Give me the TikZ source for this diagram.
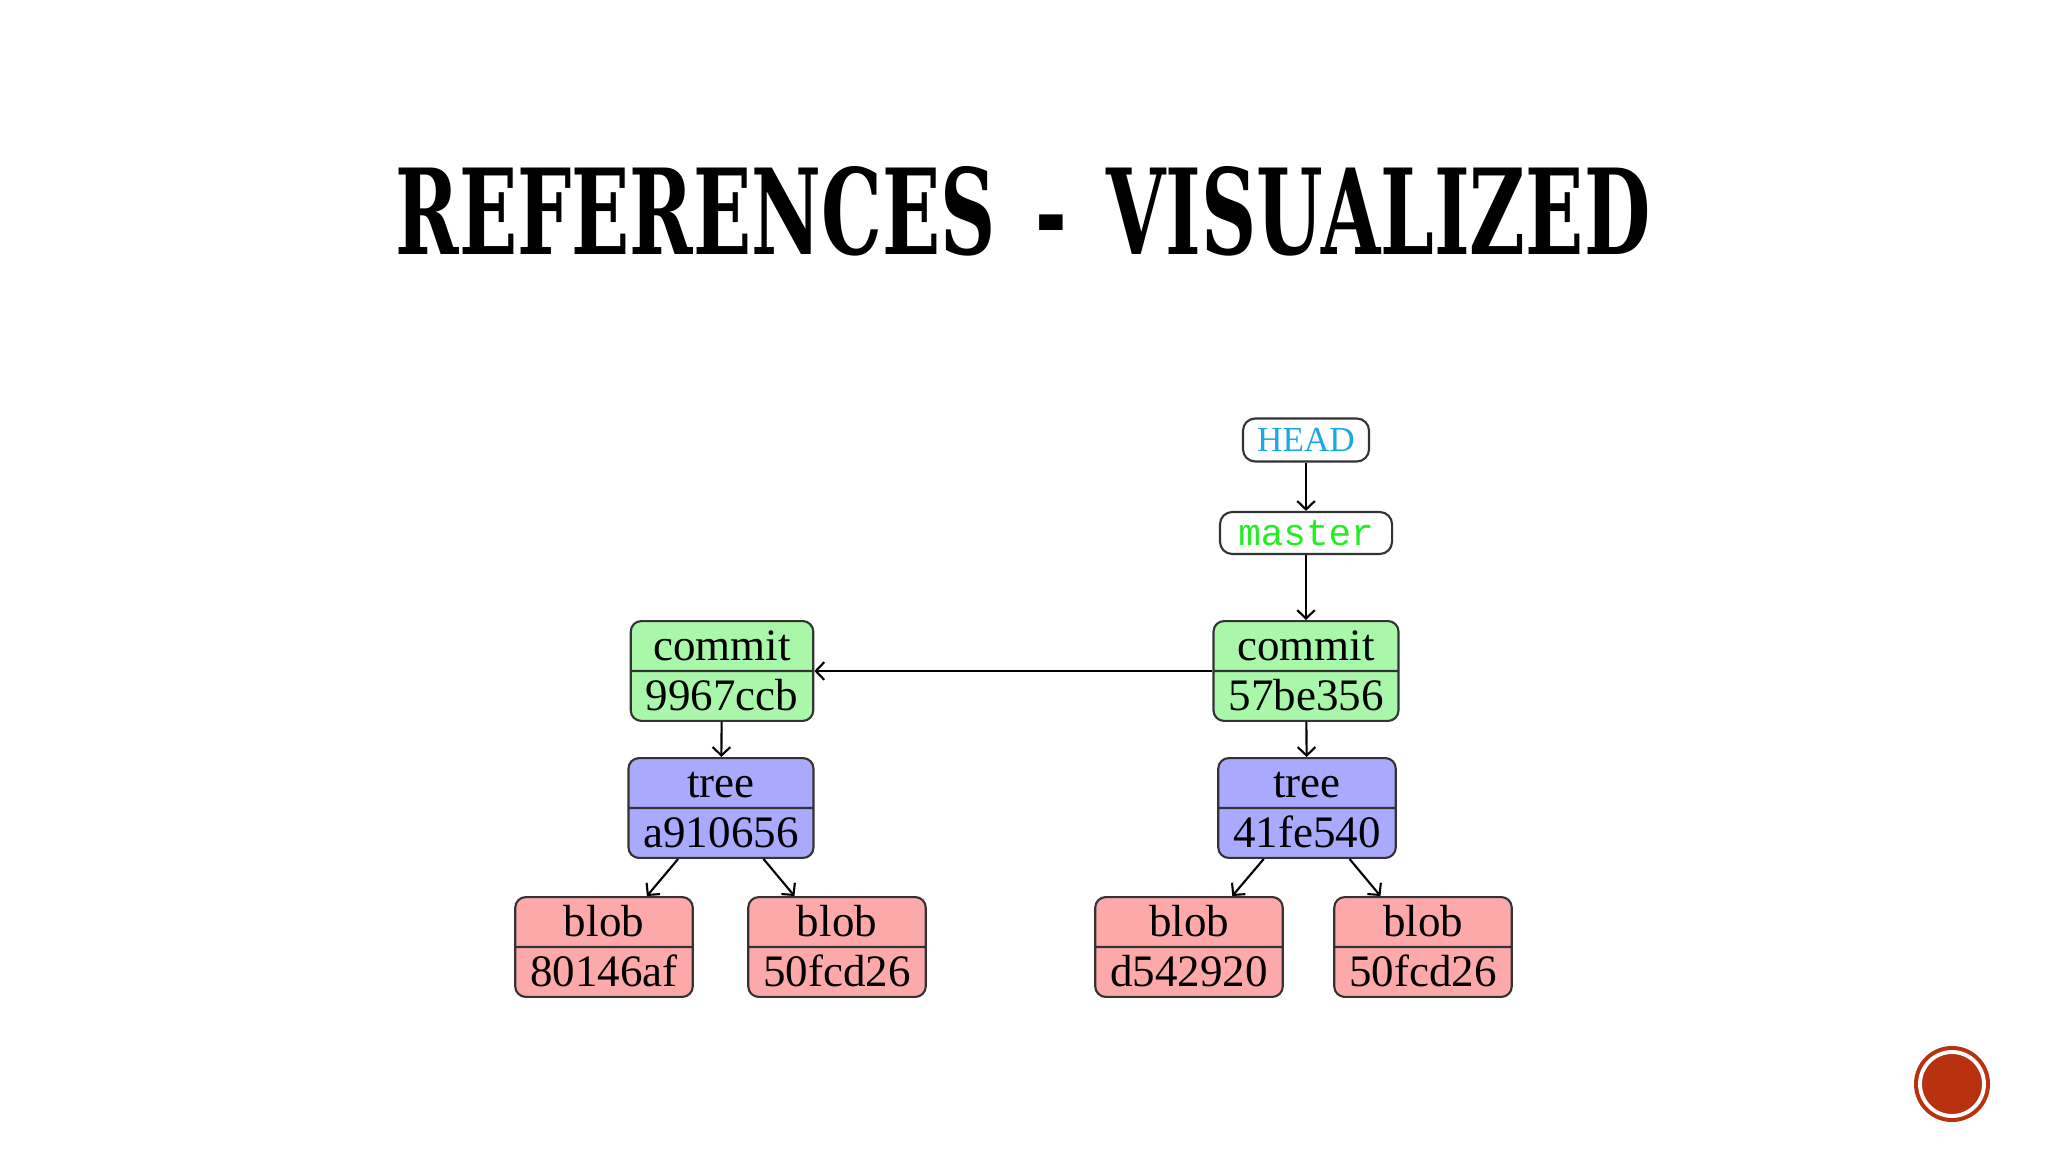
\documentclass[tikz,border=0pt]{standalone}
\usepackage{graphicx}
\usepackage{xcolor}
\usepackage{fontspec}
\setmainfont{Liberation Serif}
\setmonofont{Liberation Mono}
\newfontfamily\titlefont{DejaVu Serif}
\usepackage{tikz}
\usetikzlibrary{arrows.meta,shapes.multipart}
\definecolor{gitcommit}{HTML}{A9F7A9}
\definecolor{gittree}{HTML}{A9A9FD}
\definecolor{gitblob}{HTML}{FDA9A9}
\definecolor{gitline}{HTML}{333333}
\definecolor{headblue}{HTML}{1BA9E3}
\definecolor{branchgreen}{HTML}{22EE22}
\definecolor{badgered}{HTML}{B8320F}
\newcommand{\ObjStrut}{\rule[-2.2pt]{0pt}{12.6pt}}
\newcommand{\GitObj}[2]{#1\ObjStrut\nodepart{two}#2\ObjStrut}

\begin{document}
\begin{tikzpicture}[
  x=0.01cm,
  y=-0.01cm,
  obj/.style={rectangle split, rectangle split parts=2, draw=gitline, line width=0.6pt,
    rounded corners=3pt, inner xsep=0.15cm, inner ysep=0.5pt, align=center,
    font=\fontsize{12.8}{13.6}\selectfont},
  commitobj/.style={obj, fill=gitcommit},
  treeobj/.style={obj, fill=gittree},
  blobobj/.style={obj, fill=gitblob},
  ref/.style={draw=gitline, line width=0.6pt, rounded corners=3.5pt, inner sep=0pt},
  arrow/.style={-{Straight Barb[length=2.4pt,width=5pt]}, line width=0.6pt, draw=black}
]
\useasboundingbox (0,0) rectangle (2048,1152);
\fill[white] (0,0) rectangle (2048,1152);

\node[inner sep=0pt, font=\titlefont\bfseries] (title) at (1023,211)
  {\resizebox{12.54cm}{0.88cm}{REFERENCES \,-\, VISUALIZED}};

\node[ref, minimum width=1.26cm, minimum height=0.43cm, text=headblue,
  font=\fontsize{10}{11}\selectfont] (head) at (1306,440) {HEAD};
\node[ref, minimum width=1.72cm, minimum height=0.42cm, text=branchgreen,
  font=\ttfamily\fontsize{10.7}{11}\selectfont] (master) at (1306,533) {master};

\node[commitobj] (commitnew) at (1306,671) {\GitObj{commit}{57be356}};
\node[commitobj] (commitold) at (722,671) {\GitObj{commit}{9967ccb}};

\node[treeobj] (treeold) at (721,808) {\GitObj{tree}{a910656}};
\node[treeobj] (treenew) at (1307,808) {\GitObj{tree}{41fe540}};

\node[blobobj] (blobA) at (604,947) {\GitObj{blob}{80146af}};
\node[blobobj] (blobB) at (837,947) {\GitObj{blob}{50fcd26}};
\node[blobobj] (blobC) at (1189,947) {\GitObj{blob}{d542920}};
\node[blobobj] (blobD) at (1423,947) {\GitObj{blob}{50fcd26}};

\draw[arrow] (head) -- (master);
\draw[arrow] (master) -- (commitnew);
\draw[arrow] (commitnew) -- (commitold);
\draw[arrow] (commitold) -- (treeold);
\draw[arrow] (commitnew) -- (treenew);
\draw[arrow] (treeold) -- (blobA);
\draw[arrow] (treeold) -- (blobB);
\draw[arrow] (treenew) -- (blobC);
\draw[arrow] (treenew) -- (blobD);

% slide badge
\node[circle, fill=badgered, minimum size=0.76cm, inner sep=0pt] (badge) at (1952,1084) {};
\draw[white, line width=1.1pt] (badge.center) circle[radius=32];
\end{tikzpicture}
\end{document}
